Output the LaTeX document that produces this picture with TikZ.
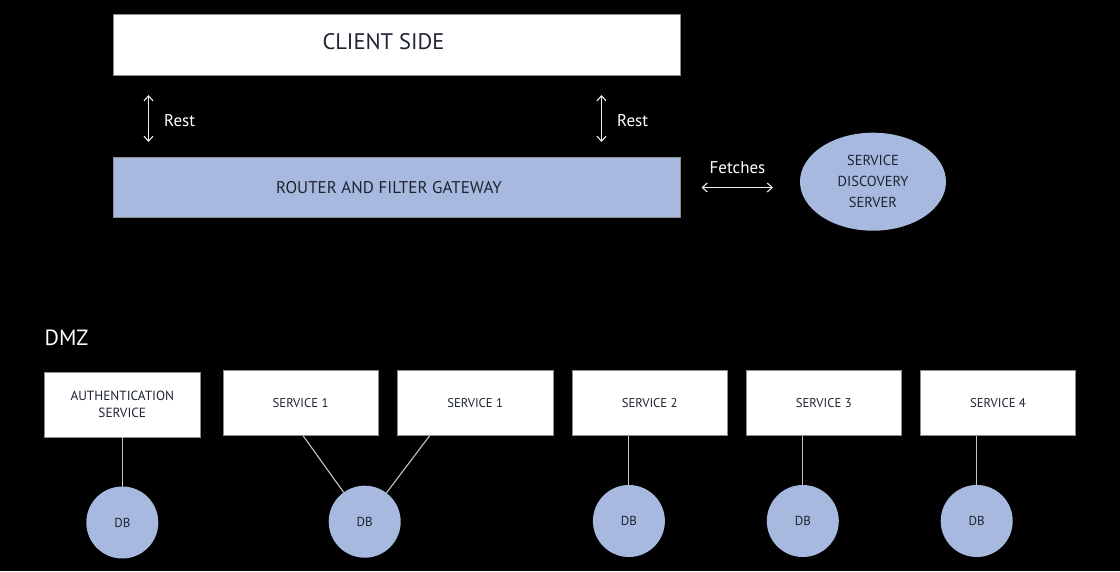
\documentclass[tikz,border=0pt]{standalone}
\usepackage{fontspec}
\setmainfont{PT Sans}
\usetikzlibrary{arrows.meta,shapes.geometric}
\definecolor{fillblue}{HTML}{A7B9DF}
\definecolor{inkc}{HTML}{1E2430}
\definecolor{edgec}{HTML}{8C8C8C}
\definecolor{linkc}{HTML}{C4C4C4}
\definecolor{arrc}{HTML}{EDEDED}
\begin{document}
\begin{tikzpicture}[x=1pt,y=-1pt,
  whitebox/.style={draw=edgec,line width=0.7pt,fill=white,text=inkc,inner sep=0pt,outer sep=0pt,align=center},
  bluebox/.style={draw=edgec,line width=0.5pt,fill=fillblue,text=inkc,inner sep=0pt,outer sep=0pt,align=center},
  svcbox/.style={whitebox,minimum width=155.5pt,minimum height=65.5pt,font=\fontsize{12.7}{15}\selectfont},
  dbnode/.style={circle,fill=fillblue,text=inkc,minimum size=72pt,inner sep=0pt,outer sep=0pt,font=\fontsize{13}{15}\selectfont},
  link/.style={draw=linkc,line width=1.1pt},
  twoway/.style={draw=arrc,line width=1.1pt,{Straight Barb[length=5pt,width=9pt]}-{Straight Barb[length=5pt,width=9pt]}},
  lbl/.style={text=white,inner sep=0pt,font=\fontsize{17}{20}\selectfont},
  boxtext/.style={text=inkc,inner sep=0pt}
]
\fill[black] (0,0) rectangle (1120,571);
\useasboundingbox (0,0) rectangle (1120,571);

% top
\node[whitebox,minimum width=567pt,minimum height=61pt] (client) at (396.5,44.5) {};
\node[boxtext,font=\fontsize{22.5}{26}\selectfont] (clienttxt) at (383.5,42) {CLIENT SIDE};
\node[bluebox,minimum width=567pt,minimum height=60pt] (router) at (396.5,187.5) {};
\node[boxtext,font=\fontsize{17}{20}\selectfont] (routertxt) at (389,188) {ROUTER AND FILTER GATEWAY};

\coordinate (la1) at (148.5,95);
\coordinate (la2) at (148.5,142);
\coordinate (ra1) at (601.5,95);
\coordinate (ra2) at (601.5,142);
\draw[twoway] (la1) -- (la2);
\draw[twoway] (ra1) -- (ra2);
\node[lbl,anchor=west] (rest1) at (164,120.5) {Rest};
\node[lbl,anchor=west] (rest2) at (617,120.5) {Rest};

\node[ellipse,fill=fillblue,text=inkc,minimum width=146pt,minimum height=98pt,inner sep=0pt,align=center,
      font=\fontsize{14.5}{21}\selectfont] (sds) at (873,181.7) {SERVICE\\DISCOVERY\\SERVER};
\coordinate (fa1) at (701.5,187.5);
\coordinate (fa2) at (773,187.5);
\draw[twoway] (fa1) -- (fa2);
\node[lbl] (fetch) at (737.5,168) {Fetches};

% DMZ
\node[text=white,inner sep=0pt,anchor=west,font=\fontsize{22}{26}\selectfont] (dmz) at (44.5,338) {DMZ};

\node[svcbox,minimum height=65pt,font=\fontsize{13.3}{16.5}\selectfont] (auth) at (122.3,404.5) {AUTHENTICATION\\SERVICE};
\node[svcbox] (s1a) at (300.6,403) {SERVICE 1};
\node[svcbox] (s1b) at (475.2,403) {SERVICE 1};
\node[svcbox] (s2) at (649.7,403) {SERVICE 2};
\node[svcbox] (s3) at (823.8,403) {SERVICE 3};
\node[svcbox] (s4) at (998,403) {SERVICE 4};

\node[dbnode] (db1) at (122.3,522.5) {DB};
\node[dbnode] (db2) at (364.7,521.7) {DB};
\node[dbnode] (db3) at (628.9,521) {DB};
\node[dbnode] (db4) at (802.8,521) {DB};
\node[dbnode] (db5) at (976.7,521) {DB};

\draw[link] (auth.south) -- (db1);
\draw[link] ([xshift=2.5pt]s1a.south) -- (db2);
\draw[link] ([xshift=-45.6pt]s1b.south) -- (db2);
\draw[link] (s2.south -| db3.center) -- (db3);
\draw[link] (s3.south -| db4.center) -- (db4);
\draw[link] (s4.south -| db5.center) -- (db5);
\end{tikzpicture}
\end{document}
